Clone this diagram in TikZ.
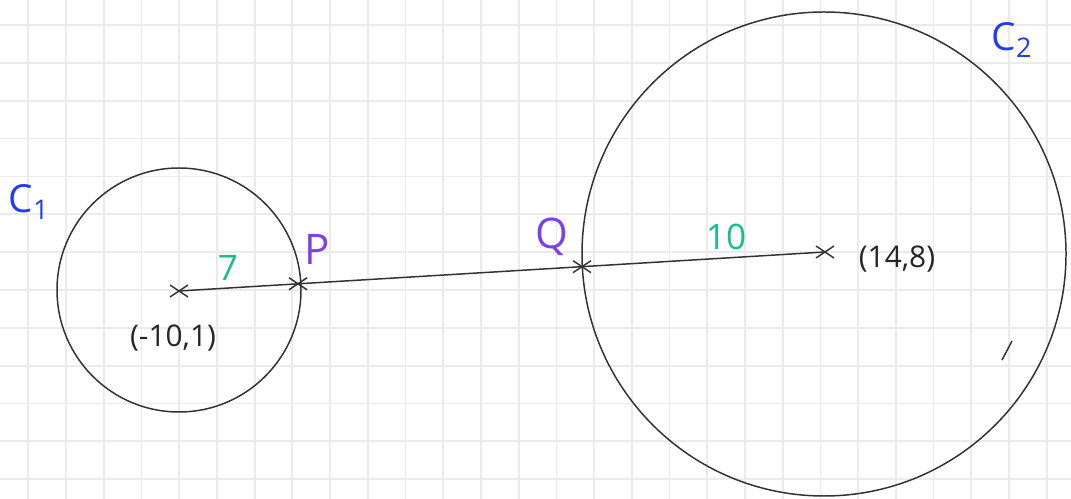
\documentclass[tikz,border=0pt]{standalone}
\usepackage{fontspec}
\setmainfont{Open Sans}
\usetikzlibrary{calc}

\definecolor{penblue}{RGB}{35,60,240}
\definecolor{penpurple}{RGB}{125,65,230}
\definecolor{pengreen}{RGB}{25,190,140}

\tikzset{
    gridline/.style={black!8, line width=1pt},
    pen/.style={black!80, line width=0.85pt},
    circlab/.style={penblue, font=\fontsize{22}{24}\selectfont},
    ptlab/.style={penpurple, font=\fontsize{24}{26}\selectfont},
    radlab/.style={pengreen, font=\fontsize{20}{22}\selectfont},
    coordlab/.style={black!85, font=\fontsize{17}{19}\selectfont}
}

\begin{document}
\begin{tikzpicture}[x=0.02cm, y=-0.02cm, every node/.style={inner sep=0pt}]
                \fill[white] (0,0) rectangle (1071,499);
                \useasboundingbox (0,0) rectangle (1071,499);
                \foreach \i in {0,...,27}
                    \draw[gridline] ({28.3+37.72*\i},0) -- ({28.3+37.72*\i},499);
                \foreach \j in {0,...,12}
                    \draw[gridline] (0,{25+37.85*\j}) -- (1071,{25+37.85*\j});
                
                \coordinate (O1) at (179,291);
                \coordinate (O2) at (825,252);
                \coordinate (P) at ($(O1)!0.1842!(O2)$);
                \coordinate (Q) at ($(O1)!0.6238!(O2)$);
                
                \draw[pen] (179,290) circle[radius=122];
                \draw[pen] (824,254) circle[radius=242];
                \draw[pen] (O1) -- (O2);
                \foreach \pt in {O1,P,Q,O2} {
                    \draw[pen] ([shift={(-9,-6)}]\pt) -- ([shift={(9,6)}]\pt);
                    \draw[pen] ([shift={(-9,6)}]\pt) -- ([shift={(9,-6)}]\pt);
                }
                \draw[pen] (1002,360) -- (1012,341);
                
                \node[circlab] (c1) at (29,202) {C\textsubscript{1}};
                \node[circlab] (c2) at (1012,40) {C\textsubscript{2}};
                \node[ptlab] (plab) at (317,249) {P};
                \node[ptlab] (qlab) at (552,237) {Q};
                \node[radlab] (r1) at (228,268) {7};
                \node[radlab] (r2) at (726,237) {10};
                \node[coordlab] (cc1) at (173,338) {(-10,1)};
                \node[coordlab] (cc2) at (897,259) {(14,8)};
            \end{tikzpicture}
\end{document}
